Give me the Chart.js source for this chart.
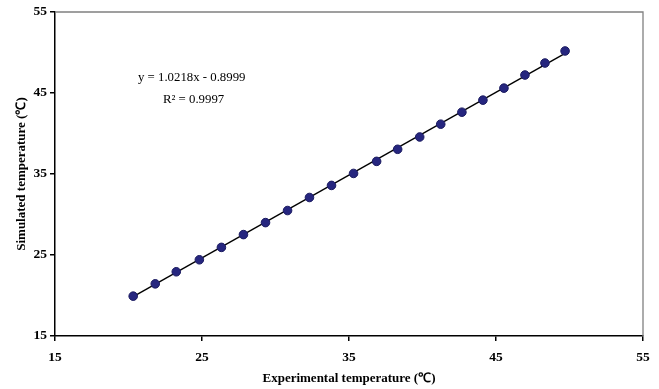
<!DOCTYPE html>
<html>
<head>
<meta charset="utf-8">
<script src="https://cdn.jsdelivr.net/npm/chart.js@4/dist/chart.umd.min.js"></script>
<style>
html,body{margin:0;padding:0;background:#fff;}
#wrap{width:659px;height:389px;position:relative;}
</style>
</head>
<body>
<div id="wrap"><canvas id="c" width="659" height="389"></canvas></div>
<script>
const experimental = [20.32, 21.82, 23.25, 24.82, 26.32, 27.82, 29.32, 30.82, 32.31, 33.81, 35.31, 36.88, 38.31, 39.81, 41.24, 42.68, 44.11, 45.54, 46.97, 48.33, 49.70];
const simulated    = [19.92, 21.44, 22.93, 24.41, 25.94, 27.52, 29.00, 30.49, 32.10, 33.59, 35.07, 36.56, 38.05, 39.57, 41.15, 42.63, 44.12, 45.60, 47.22, 48.70, 50.19];
const slope = 1.0218;
const intercept = -0.8999;
const tickValues = [15, 25, 35, 45, 55];
const equationText = "y = 1.0218x - 0.8999";
const r2Text = "R² = 0.9997";
const xTitle = "Experimental temperature (℃)";
const yTitle = "Simulated temperature (℃)";

const points = experimental.map((x, i) => ({x: x, y: simulated[i]}));
const xMin = Math.min(...experimental), xMax = Math.max(...experimental);
const trend = [{x: xMin, y: slope * xMin + intercept}, {x: xMax, y: slope * xMax + intercept}];

const frame = {
  id: 'frame',
  beforeDatasetsDraw(chart) {
    const a = chart.chartArea, ctx = chart.ctx;
    ctx.save();
    ctx.strokeStyle = '#808080';
    ctx.lineWidth = 1.3;
    ctx.beginPath();
    ctx.moveTo(a.left, a.top);
    ctx.lineTo(a.right, a.top);
    ctx.lineTo(a.right, a.bottom);
    ctx.stroke();
    ctx.restore();
  },
  afterDraw(chart) {
    const a = chart.chartArea, ctx = chart.ctx;
    ctx.save();
    ctx.fillStyle = '#000';
    ctx.font = '12.8px "Liberation Serif"';
    ctx.textAlign = 'left';
    ctx.textBaseline = 'middle';
    ctx.fillText(equationText, a.left + 83, 78);
    ctx.fillText(r2Text, a.left + 108, 100);
    ctx.restore();
  }
};

new Chart(document.getElementById('c'), {
  type: 'scatter',
  data: {
    datasets: [
      {
        type: 'line',
        data: trend,
        borderColor: '#000',
        borderWidth: 1.4,
        pointRadius: 0,
        fill: false,
        order: 2
      },
      {
        data: points,
        backgroundColor: '#26267f',
        borderColor: '#1b1b60',
        borderWidth: 1,
        pointRadius: 4.3,
        order: 1
      }
    ]
  },
  plugins: [frame],
  options: {
    responsive: false,
    animation: false,
    events: [],
    layout: {padding: {left: 0, right: 16, top: 12, bottom: 0}},
    plugins: {legend: {display: false}, tooltip: {enabled: false}},
    scales: {
      x: {
        type: 'linear',
        min: 15, max: 55,
        afterBuildTicks(s) { s.ticks = tickValues.map(v => ({value: v})); },
        afterFit(s) { s.height = 53; },
        border: {color: '#000', width: 1.5},
        grid: {drawOnChartArea: false, drawTicks: true, tickLength: 5, color: '#000', lineWidth: 1.5},
        ticks: {color: '#000', font: {family: 'Liberation Serif', size: 13.5, weight: 'bold'}, padding: 8, maxRotation: 0},
        title: {display: true, text: xTitle, color: '#000', font: {family: 'Liberation Serif', size: 13, weight: 'bold'}, padding: {top: 2, bottom: 3}}
      },
      y: {
        type: 'linear',
        min: 15, max: 55,
        afterBuildTicks(s) { s.ticks = tickValues.map(v => ({value: v})); },
        afterFit(s) { s.width = 55; },
        border: {color: '#000', width: 1.5},
        grid: {drawOnChartArea: false, drawTicks: true, tickLength: 5, color: '#000', lineWidth: 1.5},
        ticks: {color: '#000', font: {family: 'Liberation Serif', size: 13.5, weight: 'bold'}, padding: 3},
        title: {display: true, text: yTitle, color: '#000', font: {family: 'Liberation Serif', size: 13, weight: 'bold'}, padding: {top: 14, bottom: 2}}
      }
    }
  }
});
</script>
</body>
</html>
